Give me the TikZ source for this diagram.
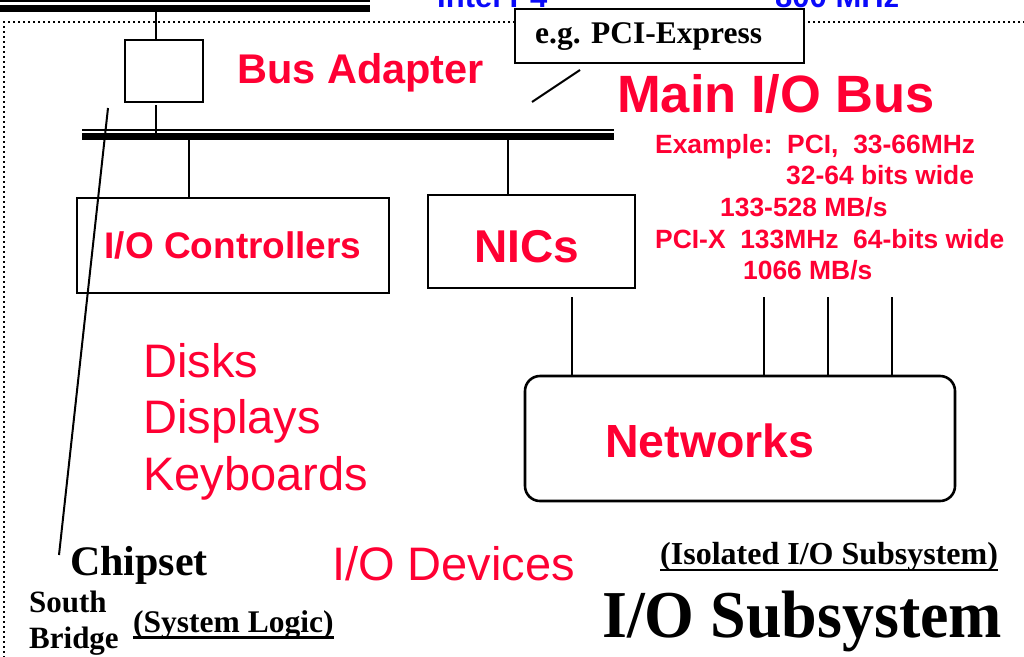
\documentclass[tikz,border=0pt]{standalone}
\usepackage{fontspec}
\usepackage{graphicx}
\setmainfont{Liberation Serif}
\setsansfont{Liberation Sans}
\usetikzlibrary{calc}
\definecolor{ired}{RGB}{255,0,51}
\definecolor{iblue}{RGB}{10,10,250}
\begin{document}
\begin{tikzpicture}[x=1pt,y=-1pt,
  box/.style={draw,line width=2.6pt,fill=white,inner sep=0pt},
  wire/.style={line width=2.8pt},
  thinbus/.style={line width=1.8pt},
  thickbus/.style={line width=7.2pt},
  lbl/.style={inner sep=0pt,anchor=base west},
  redbold/.style={text=ired,font=\sffamily\bfseries},
  redreg/.style={text=ired,font=\sffamily},
  serbold/.style={text=black,font=\rmfamily\bfseries},
  ul/.style={line width=2.2pt}
]
\useasboundingbox (0,0) rectangle (1024,656);
\clip (0,0) rectangle (1024,656);

% dotted frame
\draw[line width=2.2pt,dash pattern=on 2pt off 3pt] (1030,22) -- (4,22) -- (4,662);

% top (processor) bus
\coordinate (tb0) at (0,8.4);
\coordinate (tb1) at (370,8.4);
\draw[thickbus] (tb0) -- (tb1);
\draw[thinbus] (0,1.2) -- (370,1.2);

% blue labels at top (cut by page edge)
\node[lbl,text=iblue,font=\sffamily\bfseries\fontsize{31}{37}\selectfont] (intel) at (437,7.5) {Intel P4};
\node[lbl,text=iblue,font=\sffamily\bfseries\fontsize{31}{37}\selectfont] (mhz) at (775,7.5) {800 MHz};

% main I/O bus
\coordinate (mb0) at (82,136.7);
\coordinate (mb1) at (614,136.7);
\draw[thickbus] (mb0) -- (mb1);
\draw[thinbus] (82,129.8) -- (614,129.8);

% bus adapter
\node[box,minimum width=78pt,minimum height=62pt] (ba) at (164,71) {};
\coordinate (tbx) at (156,8);
\coordinate (mbx) at (156,136);
\draw[wire] (tbx) -- (tbx |- ba.north);
\draw[wire] ($(mbx |- ba.south)+(0,2)$) -- (mbx);
\node[lbl,redbold,font=\sffamily\bfseries\fontsize{41.5}{50}\selectfont] (batxt) at (237,83) {Bus Adapter};

% e.g. PCI-Express
\node[box,minimum width=289pt,minimum height=54pt] (pe) at (659.5,36) {};
\node[lbl,serbold,font=\rmfamily\bfseries\fontsize{31.5}{38}\selectfont] (petxt) at (535,43) {e.g. PCI-Express};
\coordinate (p1) at (532,102);
\coordinate (p2) at (580,70);
\draw[line width=2pt] (p1) -- (p2);

% Main I/O Bus label
\node[lbl,redbold,font=\sffamily\bfseries\fontsize{52.5}{63}\selectfont] (mainbus) at (617,112) {Main I/O Bus};
\begin{scope}[every node/.style={lbl,redbold,font=\sffamily\bfseries\fontsize{26.4}{32}\selectfont}]
\node (ex1) at (655,153) {Example:\ \ PCI,\ \ 33-66MHz};
\node (ex2) at (786,184) {32-64 bits wide};
\node (ex3) at (720,216) {133-528 MB/s};
\node (ex4) at (655,248) {PCI-X\ \ 133MHz\ \ 64-bits wide};
\node (ex5) at (743,279) {1066 MB/s};
\end{scope}

% I/O controllers
\node[box,minimum width=312pt,minimum height=95pt,redbold,font=\sffamily\bfseries\fontsize{37}{44}\selectfont] (ioc) at (233,245.5) {I/O Controllers};
\coordinate (iocx) at (189,136);
\draw[wire] (iocx) -- (iocx |- ioc.north);

% NICs
\node[box,minimum width=207pt,minimum height=93pt] (nic) at (531.5,241.5) {};
\node[lbl,redbold,font=\sffamily\bfseries\fontsize{46}{55}\selectfont] (nictxt) at (474,262) {NICs};
\coordinate (nicx) at (508,136);
\draw[wire] (nicx) -- (nicx |- nic.north);

% Networks
\node[box,rounded corners=15pt,minimum width=430pt,minimum height=125pt] (net) at (740,438.5) {};
\node[lbl,redbold,font=\sffamily\bfseries\fontsize{46.5}{56}\selectfont] (nettxt) at (605,457) {Networks};
\coordinate (n1) at (572,297);
\coordinate (n2) at (764,297);
\coordinate (n3) at (828,297);
\coordinate (n4) at (892,297);
\foreach \c in {n1,n2,n3,n4} \draw[wire] (\c) -- (\c |- net.north);

% devices
\begin{scope}[every node/.style={lbl,redreg,font=\sffamily\fontsize{47}{56}\selectfont}]
\node (disks) at (143,377) {Disks};
\node (disp) at (143,433) {Displays};
\node (keyb) at (143,490) {Keyboards};
\node (iodev) at (332,580) {I/O Devices};
\end{scope}

% chipset
\node[lbl,serbold,font=\rmfamily\bfseries\fontsize{42}{50}\selectfont] (chip) at (70,575) {Chipset};
\coordinate (c1) at (108,108);
\coordinate (c2) at (59,555);
\draw[line width=2pt] (c1) -- (c2);
\node[lbl,serbold,font=\rmfamily\bfseries\fontsize{31}{37}\selectfont] (south) at (29,612) {South};
\node[lbl,serbold,font=\rmfamily\bfseries\fontsize{31}{37}\selectfont] (bridge) at (29,648) {Bridge};
\node[lbl,serbold,font=\rmfamily\bfseries\fontsize{31.5}{38}\selectfont] (syslog) at (133,632) {(System Logic)};
\draw[ul] ($(syslog.base west)+(0,5.5)$) -- ($(syslog.base east)+(0,5.5)$);

% subsystem
\node[lbl,serbold,font=\rmfamily\bfseries\fontsize{32}{38}\selectfont] (iso) at (660,564) {(Isolated I/O Subsystem)};
\draw[ul] ($(iso.base west)+(0,6)$) -- ($(iso.base east)+(0,6)$);
\node[lbl,serbold,font=\rmfamily\bfseries\fontsize{67}{80}\selectfont] (ios) at (602,637) {\scalebox{0.955}[1]{I/O Subsystem}};
\end{tikzpicture}
\end{document}
